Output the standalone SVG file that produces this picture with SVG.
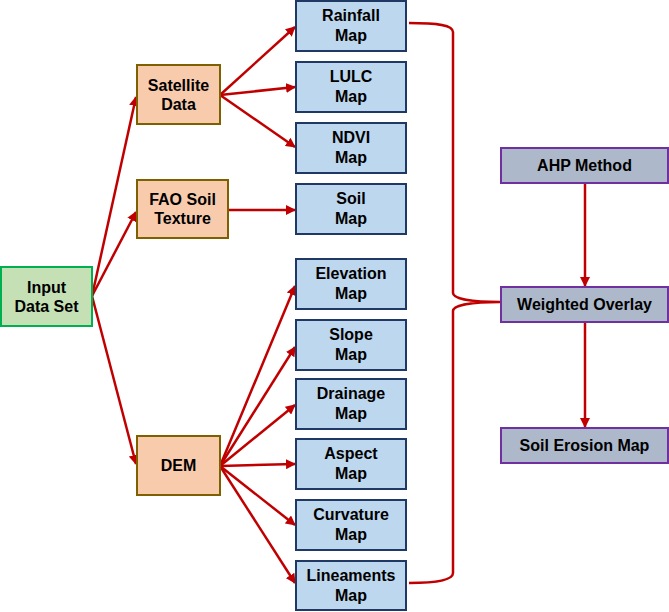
<svg xmlns="http://www.w3.org/2000/svg" width="669" height="612" viewBox="0 0 669 612">
<defs>
<style>
text{font-family:"Liberation Sans",Arial,sans-serif;font-weight:bold;font-size:16px;fill:#000;text-anchor:middle}
.g{fill:#C5E0B4;stroke:#00B050;stroke-width:2}
.o{fill:#F8CBAD;stroke:#7F6000;stroke-width:2}
.b{fill:#BDD7EE;stroke:#1F3864;stroke-width:2}
.p{fill:#ADB9CA;stroke:#7030A0;stroke-width:2}
.c{fill:none;stroke:#C00000;stroke-width:2.5}
</style>
<marker id="ah" viewBox="0 0 10 10" refX="9" refY="5" markerWidth="4" markerHeight="4" orient="auto" markerUnits="strokeWidth">
<path d="M0,0 L10,5 L0,10 z" fill="#C00000"/>
</marker>
</defs>
<rect width="669" height="612" fill="#fff"/>
<g id="connectors">
<line class="c" x1="92" y1="296" x2="136" y2="97" marker-end="url(#ah)"/>
<line class="c" x1="92" y1="296" x2="136" y2="212" marker-end="url(#ah)"/>
<line class="c" x1="92" y1="296" x2="136" y2="464" marker-end="url(#ah)"/>
<line class="c" x1="220" y1="95" x2="295" y2="27" marker-end="url(#ah)"/>
<line class="c" x1="220" y1="95" x2="295" y2="87" marker-end="url(#ah)"/>
<line class="c" x1="220" y1="95" x2="295" y2="147" marker-end="url(#ah)"/>
<line class="c" x1="228" y1="210" x2="295" y2="210" marker-end="url(#ah)"/>
<line class="c" x1="220" y1="466" x2="295" y2="286" marker-end="url(#ah)"/>
<line class="c" x1="220" y1="466" x2="295" y2="347" marker-end="url(#ah)"/>
<line class="c" x1="220" y1="466" x2="295" y2="405" marker-end="url(#ah)"/>
<line class="c" x1="220" y1="466" x2="295" y2="464" marker-end="url(#ah)"/>
<line class="c" x1="220" y1="466" x2="295" y2="525" marker-end="url(#ah)"/>
<line class="c" x1="220" y1="466" x2="295" y2="583" marker-end="url(#ah)"/>
<path class="c" d="M409,23 C438,23 453,25 453,32 L453,293 C453,299 472,302 500,302 C472,302 453,305 453,311 L453,573 C453,580 438,583 409,583"/>
<line class="c" x1="585" y1="183" x2="585" y2="286" marker-end="url(#ah)"/>
<line class="c" x1="585" y1="322" x2="585" y2="427" marker-end="url(#ah)"/>
</g>
<g id="input"><rect class="g" x="1" y="267" width="91" height="59"/><text x="46.5" y="293">Input</text><text x="46.5" y="312">Data Set</text></g>
<g id="satellite"><rect class="o" x="137" y="65" width="83" height="59"/><text x="178.5" y="91">Satellite</text><text x="178.5" y="110">Data</text></g>
<g id="fao"><rect class="o" x="137" y="180" width="91" height="58"/><text x="182.5" y="205">FAO Soil</text><text x="182.5" y="224">Texture</text></g>
<g id="dem"><rect class="o" x="137" y="436" width="83" height="59"/><text x="178.5" y="471">DEM</text></g>
<g id="rainfall"><rect class="b" x="296" y="1" width="110" height="50"/><text x="351" y="21">Rainfall</text><text x="351" y="41">Map</text></g>
<g id="lulc"><rect class="b" x="296" y="62" width="110" height="50"/><text x="351" y="82">LULC</text><text x="351" y="102">Map</text></g>
<g id="ndvi"><rect class="b" x="296" y="123" width="110" height="50"/><text x="351" y="143">NDVI</text><text x="351" y="163">Map</text></g>
<g id="soil"><rect class="b" x="296" y="184" width="110" height="50"/><text x="351" y="204">Soil</text><text x="351" y="224">Map</text></g>
<g id="elevation"><rect class="b" x="296" y="259" width="110" height="50"/><text x="351" y="279">Elevation</text><text x="351" y="299">Map</text></g>
<g id="slope"><rect class="b" x="296" y="320" width="110" height="50"/><text x="351" y="340">Slope</text><text x="351" y="360">Map</text></g>
<g id="drainage"><rect class="b" x="296" y="379" width="110" height="50"/><text x="351" y="399">Drainage</text><text x="351" y="419">Map</text></g>
<g id="aspect"><rect class="b" x="296" y="439" width="110" height="50"/><text x="351" y="459">Aspect</text><text x="351" y="479">Map</text></g>
<g id="curvature"><rect class="b" x="296" y="500" width="110" height="50"/><text x="351" y="520">Curvature</text><text x="351" y="540">Map</text></g>
<g id="lineaments"><rect class="b" x="296" y="561" width="110" height="49"/><text x="351" y="581">Lineaments</text><text x="351" y="601">Map</text></g>
<g id="ahp"><rect class="p" x="501" y="148" width="167" height="35"/><text x="584.5" y="171">AHP Method</text></g>
<g id="weighted"><rect class="p" x="501" y="287" width="167" height="35"/><text x="584.5" y="310">Weighted Overlay</text></g>
<g id="erosion"><rect class="p" x="501" y="428" width="167" height="35"/><text x="584.5" y="451">Soil Erosion Map</text></g>
</svg>
